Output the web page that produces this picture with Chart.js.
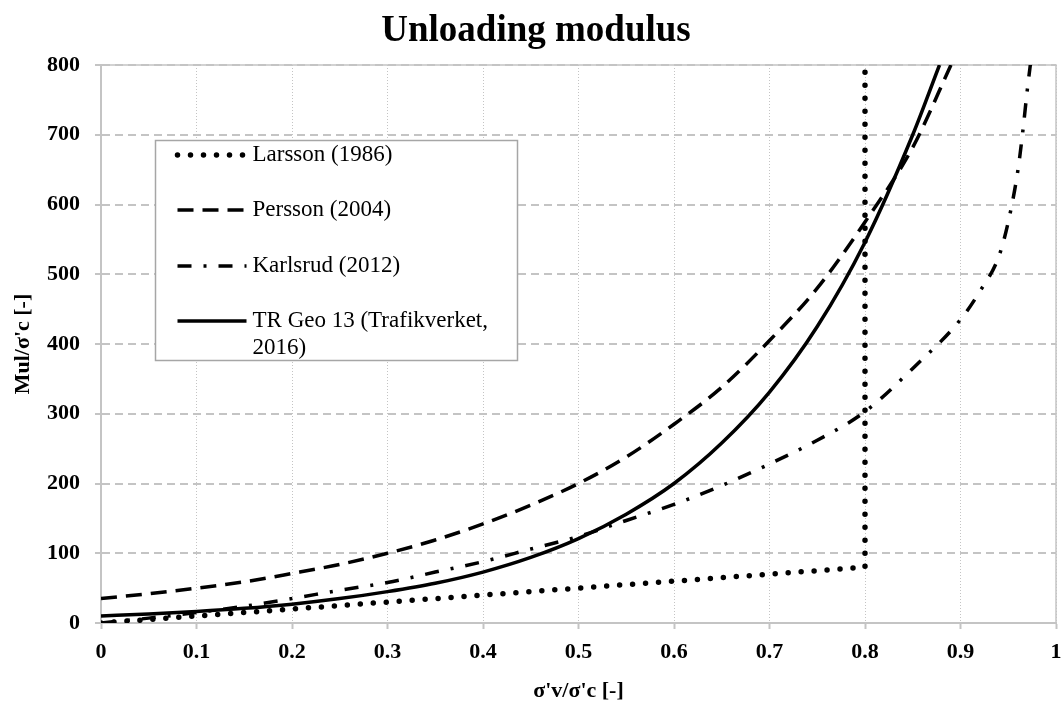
<!DOCTYPE html>
<html>
<head>
<meta charset="utf-8">
<script src="https://cdn.jsdelivr.net/npm/chart.js@4.4.1/dist/chart.umd.min.js"></script>
<style>
  body { margin: 0; background: #fff; }
  #wrap { width: 1061px; height: 702px; }
</style>
</head>
<body>
<div id="wrap"><canvas id="graph" width="1061" height="702"></canvas></div>
<script>
// x = σ'v/σ'c, y = Mul/σ'c
var larssonX = [0, 0.1, 0.2, 0.3, 0.4, 0.5, 0.6, 0.7, 0.8, 0.8]
var larssonY = [0, 10, 20, 30, 40, 50, 60, 70, 80, 800]

var perssonX = [0, 0.05, 0.1, 0.15, 0.2, 0.25, 0.3, 0.35, 0.4, 0.45, 0.5, 0.55, 0.6, 0.65, 0.7, 0.75, 0.8, 0.85, 0.89]
var perssonY = [35, 42, 50, 59, 71, 84, 100, 119, 142, 169, 200, 238, 285, 338, 405, 480, 575, 682, 800]

var karlsrudX = [0, 0.05, 0.1, 0.15, 0.2, 0.25, 0.3, 0.35, 0.4, 0.45, 0.5, 0.55, 0.6, 0.65, 0.7, 0.75, 0.8, 0.85, 0.9, 0.92, 0.94, 0.95, 0.96, 0.965, 0.97, 0.974]
var karlsrudY = [0, 7, 15, 24, 35, 47, 58, 73, 88, 106, 124, 147, 170, 197, 228, 262, 303, 365, 435, 475, 525, 575, 648, 702, 765, 810]

var trGeoX = [0, 0.05, 0.1, 0.15, 0.2, 0.25, 0.3, 0.35, 0.4, 0.45, 0.5, 0.55, 0.6, 0.65, 0.7, 0.75, 0.8, 0.85, 0.878]
var trGeoY = [10, 13, 16.5, 21, 27, 35, 45, 57, 73, 94, 121, 156, 200, 258, 331, 425, 546, 700, 800]

var xTicks = [0, 0.1, 0.2, 0.3, 0.4, 0.5, 0.6, 0.7, 0.8, 0.9, 1]
var yTicks = [0, 100, 200, 300, 400, 500, 600, 700, 800]

function pts(xs, ys) {
  return xs.map((x, i) => ({x: x, y: ys[i]}))
}

var serif = "'Liberation Serif', 'Times New Roman', serif"
var gridGray = '#c4c4c4'

// frame round the plot area (top + right edges are solid)
var plotFrame = {
  id: 'plotFrame',
  beforeDatasetsDraw(chart) {
    var a = chart.chartArea, ctx = chart.ctx
    ctx.save()
    ctx.strokeStyle = gridGray
    ctx.lineWidth = 1.5
    ctx.strokeRect(a.left, a.top, a.right - a.left, a.bottom - a.top)
    ctx.restore()
  }
}

// boxed legend sitting inside the plot
var legendBox = {
  id: 'legendBox',
  afterDatasetsDraw(chart) {
    var a = chart.chartArea, ctx = chart.ctx
    var bx = a.left + 54.5, by = a.top + 75.5, bw = 362, bh = 220
    ctx.save()
    ctx.fillStyle = '#fff'
    ctx.fillRect(bx, by, bw, bh)
    ctx.strokeStyle = '#a6a6a6'
    ctx.lineWidth = 1.5
    ctx.strokeRect(bx, by, bw, bh)

    var rows = [155, 210, 266, 321]
    ctx.font = "23px " + serif
    ctx.textBaseline = 'middle'
    ctx.fillStyle = '#000'
    chart.data.datasets.forEach((ds, i) => {
      var y = rows[i]
      ctx.save()
      ctx.strokeStyle = ds.borderColor
      ctx.lineWidth = ds.borderWidth
      ctx.lineCap = ds.borderCapStyle || 'butt'
      ctx.setLineDash(ds.borderDash || [])
      ctx.beginPath()
      ctx.moveTo(bx + 22, y)
      ctx.lineTo(bx + 91, y)
      ctx.stroke()
      ctx.restore()

      // wrap long labels
      var words = ds.label.split(' '), line = '', lines = []
      words.forEach(w => {
        var t = line ? line + ' ' + w : w
        if (ctx.measureText(t).width > bw - 104 && line) { lines.push(line); line = w } else line = t
      })
      lines.push(line)
      lines.forEach((l, k) => ctx.fillText(l, bx + 97, y + k * 27))
    })
    ctx.restore()
  }
}

new Chart(document.getElementById('graph'), {
  type: 'line',
  data: {
    datasets: [{
      label: 'Larsson (1986)',
      data: pts(larssonX, larssonY),
      borderColor: '#000',
      borderWidth: 5.5,
      borderDash: [0, 13],
      borderCapStyle: 'round',
      tension: 0
    }, {
      label: 'Persson (2004)',
      data: pts(perssonX, perssonY),
      borderColor: '#000',
      borderWidth: 3.5,
      borderDash: [16, 9],
      cubicInterpolationMode: 'monotone'
    }, {
      label: 'Karlsrud (2012)',
      data: pts(karlsrudX, karlsrudY),
      borderColor: '#000',
      borderWidth: 3.5,
      borderDash: [14, 12, 3, 12],
      cubicInterpolationMode: 'monotone'
    }, {
      label: 'TR Geo 13 (Trafikverket, 2016)',
      data: pts(trGeoX, trGeoY),
      borderColor: '#000',
      borderWidth: 3.5,
      cubicInterpolationMode: 'monotone'
    }]
  },
  options: {
    responsive: false,
    animation: false,
    elements: { point: { radius: 0 } },
    layout: { padding: { left: 16, right: 5, top: 0, bottom: 0 } },
    plugins: {
      legend: { display: false },
      tooltip: { enabled: false },
      title: {
        display: true,
        text: 'Unloading modulus',
        color: '#000',
        font: { family: serif, size: 37, weight: 'bold', lineHeight: 1.2 },
        padding: { top: 9, bottom: 11.6 }
      }
    },
    scales: {
      x: {
        type: 'linear',
        min: 0,
        max: 1,
        afterBuildTicks: s => { s.ticks = xTicks.map(v => ({value: v})) },
        afterFit: s => { s.height = 79; s.paddingLeft = 0; s.paddingRight = 0 },
        ticks: {
          color: '#000',
          padding: 10,
          font: { family: serif, size: 22, weight: 'bold' },
          callback: v => String(+v.toFixed(1))
        },
        grid: { color: gridGray, lineWidth: 1, tickLength: 6, tickColor: gridGray, tickWidth: 2 },
        border: { color: gridGray, width: 2, dash: [1, 2] },
        title: {
          display: true,
          text: "σ'v/σ'c [-]",
          color: '#000',
          font: { family: serif, size: 22, weight: 'bold', lineHeight: 1 },
          padding: { top: 0, bottom: 0 }
        }
      },
      y: {
        type: 'linear',
        min: 0,
        max: 800,
        afterBuildTicks: s => { s.ticks = yTicks.map(v => ({value: v})) },
        afterFit: s => { s.width = 85; s.paddingTop = 0; s.paddingBottom = 0 },
        ticks: {
          color: '#000',
          padding: 15,
          font: { family: serif, size: 22, weight: 'bold' }
        },
        grid: { color: gridGray, lineWidth: 2, tickLength: 6, tickColor: gridGray, tickWidth: 2 },
        border: { color: gridGray, width: 2, dash: [8, 5] },
        title: {
          display: true,
          text: "Mul/σ'c [-]",
          color: '#000',
          font: { family: serif, size: 22, weight: 'bold', lineHeight: 1.2 },
          padding: { top: -6.2, bottom: 0 }
        }
      }
    }
  },
  plugins: [plotFrame, legendBox]
})
</script>
</body>
</html>
